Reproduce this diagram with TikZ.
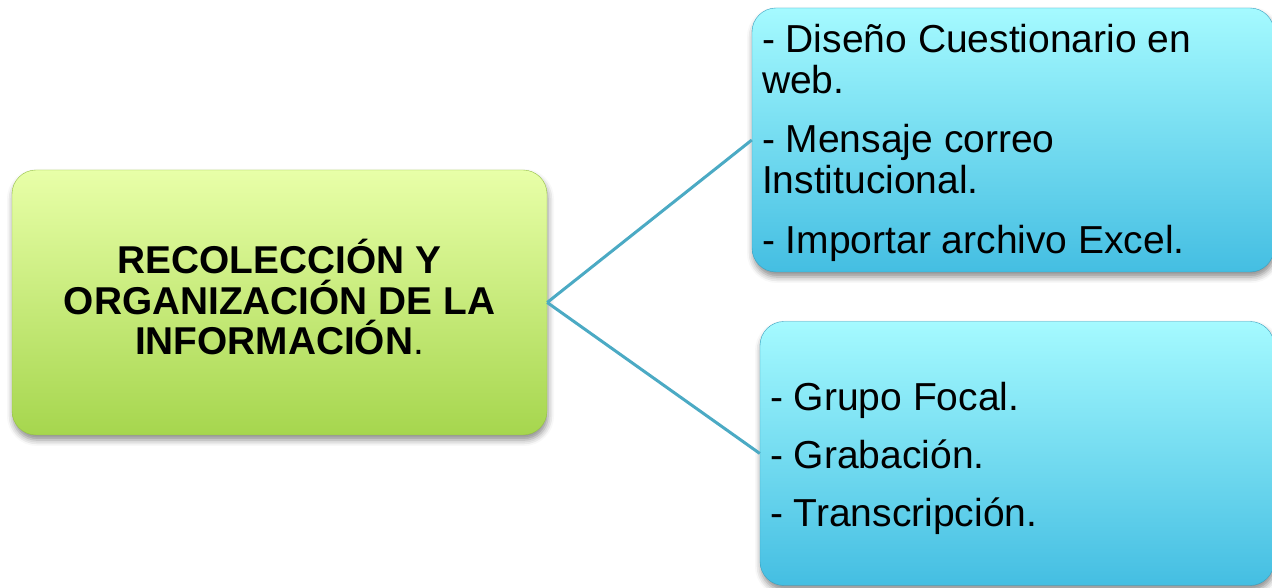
\documentclass[tikz,border=0pt]{standalone}
\usepackage{fontspec}
\setmainfont{Liberation Sans}
\usetikzlibrary{shadows.blur}
\definecolor{gtop}{RGB}{232,255,168}
\definecolor{gbot}{RGB}{166,214,78}
\definecolor{btop}{RGB}{165,250,255}
\definecolor{bbot}{RGB}{68,190,226}
\definecolor{linkc}{RGB}{75,170,196}
\tikzset{
  boxshadow/.style={blur shadow={shadow xshift=1pt, shadow yshift=-5pt, shadow blur radius=6pt, shadow opacity=45}},
  greenbox/.style={rounded corners=24pt, top color=gtop, bottom color=gbot, draw=gbot!90!black, line width=0.4pt, boxshadow,
    minimum width=535pt, minimum height=265pt, inner sep=0pt},
  bluebox/.style={rounded corners=24pt, top color=btop, bottom color=bbot, draw=bbot!85!black, line width=0.4pt, boxshadow,
    minimum height=264pt, inner sep=0pt},
  gtext/.style={align=center, inner sep=0pt, font=\fontsize{38.8}{40.5}\selectfont},
  btext/.style={align=left, inner sep=0pt, anchor=west, font=\fontsize{39}{41}\selectfont},
  link/.style={draw=linkc, line width=3pt}
}
\begin{document}
\begin{tikzpicture}[x=1pt,y=1pt]
\useasboundingbox (0,0) rectangle (1272,588);
\clip (0,0) rectangle (1272,588);
\node[greenbox] (g) at (279.5,285.5) {};
\node[bluebox, minimum width=522pt] (t) at (1013,448) {};
\node[bluebox, minimum width=514pt] (b) at (1017,134.5) {};
\node[gtext] (gt) at ([xshift=0pt,yshift=5pt]g.center) {\bfseries RECOLECCIÓN Y\\\bfseries ORGANIZACIÓN DE LA\\{\bfseries INFORMACIÓN}.};
\node[btext] (tt) at ([xshift=10pt,yshift=-3pt]t.west)
  {- Diseño Cuestionario en\\web.\\[18pt]- Mensaje correo\\Institucional.\\[19pt]- Importar archivo Excel.};
\node[btext] (bt) at ([xshift=10pt,yshift=-5pt]b.west)
  {- Grupo Focal.\\[17pt]- Grabación.\\[17pt]- Transcripción.};
\draw[link] (g.east) -- (t.west);
\draw[link] (g.east) -- (b.west);
\end{tikzpicture}
\end{document}
